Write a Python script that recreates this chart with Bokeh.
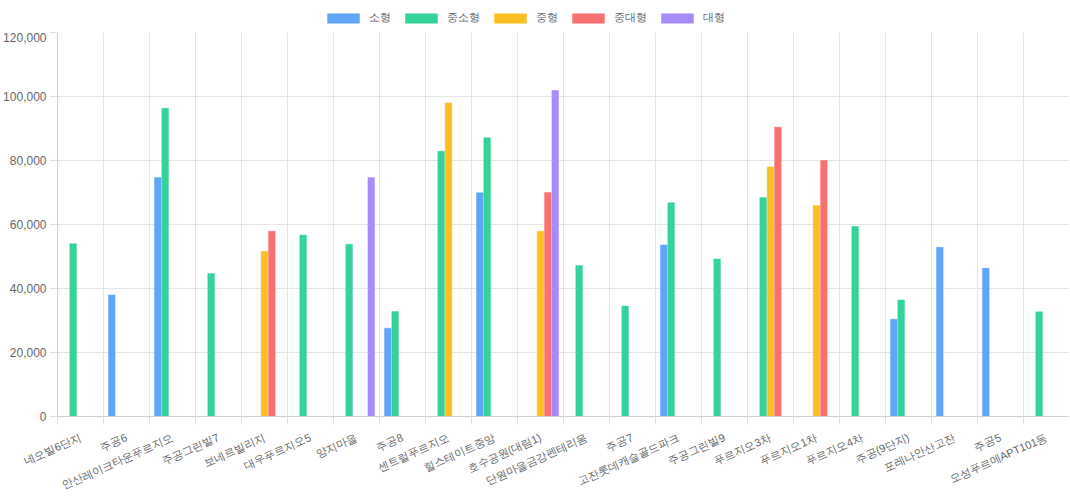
import math
from bokeh.plotting import figure
from bokeh.layouts import column
from bokeh.models import (ColumnDataSource, FixedTicker, Legend, LegendItem,
                          Range1d, NumeralTickFormatter)
from bokeh.transform import dodge
from bokeh.embed import file_html
from bokeh.resources import INLINE

nan = float("nan")

categories = ["네오빌6단지", "주공6", "안산레이크타운푸르지오", "주공그린빌7", "보네르빌리지",
              "대우푸르지오5", "양지마을", "주공8", "센트럴푸르지오", "힐스테이트중앙",
              "호수공원(대림1)", "단원마을금강펜테리움", "주공7", "고잔롯데캐슬골드파크",
              "주공그린빌9", "푸르지오3차", "푸르지오1차", "푸르지오4차", "주공(9단지)",
              "포레나안산고잔", "주공5", "오성푸르메APT101동"]

series_names = ["소형", "중소형", "중형", "중대형", "대형"]

small = [nan, 38000, 74700, nan, nan, nan, nan, 27600, nan, 69900, nan,
         nan, nan, 53600, nan, nan, nan, nan, 30400, 52900, 46300, nan]
mid_small = [54000, nan, 96300, 44700, nan, 56700, 53800, 32800, 82900, 87100, nan,
             47200, 34500, 66800, 49200, 68400, nan, 59400, 36400, nan, nan, 32700]
medium = [nan, nan, nan, nan, 51600, nan, nan, nan, 98000, nan, 57900,
          nan, nan, nan, nan, 78000, 65900, nan, nan, nan, nan, nan]
mid_large = [nan, nan, nan, nan, 57900, nan, nan, nan, nan, nan, 70000,
             nan, nan, nan, nan, 90400, 80000, nan, nan, nan, nan, nan]
large = [nan, nan, nan, nan, nan, nan, 74700, nan, nan, nan, 101900,
         nan, nan, nan, nan, nan, nan, nan, nan, nan, nan, nan]

colors = ["#60a5fa", "#34d399", "#fbbf24", "#f87171", "#a78bfa"]
y_ticks = [0, 20000, 40000, 60000, 80000, 100000, 120000]

FONT = "Liberation Sans"
FW, FH = 1012, 384
LEFT = 57

n = len(categories)
idx = list(range(n))
source = ColumnDataSource(dict(idx=idx, s0=small, s1=mid_small, s2=medium,
                               s3=mid_large, s4=large))

# ---- legend strip above the chart ----
lf = figure(frame_width=FW, frame_height=32, output_backend="svg", toolbar_location=None,
            x_range=Range1d(0, 1), y_range=Range1d(0, 1),
            x_axis_location=None, y_axis_location=None,
            min_border_left=LEFT, min_border_right=0, min_border_top=0, min_border_bottom=0)
lf.outline_line_color = None
lf.grid.visible = False

# ---- main chart ----
p = figure(frame_width=FW, frame_height=FH, output_backend="svg", toolbar_location=None,
           x_range=Range1d(-0.5, n - 0.5), y_range=Range1d(0, 120000),
           min_border_left=LEFT, min_border_right=0, min_border_top=0, min_border_bottom=0)
p.outline_line_color = None
p.background_fill_color = "white"

slot = 0.8 / 5
items = []
for k, (name, col) in enumerate(zip(series_names, colors)):
    p.vbar(x=dodge("idx", (k - 2) * slot, range=p.x_range), top="s%d" % k,
           width=slot * 0.9, bottom=0, source=source,
           fill_color=col, line_color=col, line_alpha=0.45, line_width=1)
    # swatch renderer kept outside the legend strip's visible range
    lr = lf.vbar(x=[-10], top=[-10], bottom=-11, width=0.1,
                 fill_color=col, line_color=col, line_alpha=0.45)
    items.append(LegendItem(label=name, renderers=[lr]))

legend = Legend(items=items, orientation="horizontal", location=(266, 7),
                glyph_width=40, glyph_height=12, label_standoff=6, spacing=10,
                label_text_font=FONT, label_text_font_size="11px",
                label_text_color="#666666", border_line_color=None,
                background_fill_alpha=0, padding=2, margin=0)
lf.add_layout(legend)

# grids at category boundaries
bounds = [i - 0.5 for i in range(n + 1)]
p.xgrid.ticker = FixedTicker(ticks=bounds)
p.xgrid.grid_line_color = "#e5e5e5"
p.ygrid.ticker = FixedTicker(ticks=y_ticks)
p.ygrid.grid_line_color = "#e5e5e5"

xa = p.xaxis[0]
xa.ticker = FixedTicker(ticks=idx, minor_ticks=bounds)
xa.major_label_overrides = {i: c for i, c in enumerate(categories)}
xa.major_label_orientation = 0.42
xa.major_tick_line_color = None
xa.major_tick_out = 0
xa.major_tick_in = 0
xa.minor_tick_out = 8
xa.minor_tick_in = 0
xa.minor_tick_line_color = "#e0e0e0"
xa.axis_line_color = "#d0d0d0"
xa.major_label_text_font = FONT
xa.major_label_text_font_size = "11px"
xa.major_label_text_color = "#666666"
xa.major_label_standoff = 12

ya = p.yaxis[0]
ya.ticker = FixedTicker(ticks=y_ticks)
ya.formatter = NumeralTickFormatter(format="0,0")
ya.minor_tick_line_color = None
ya.major_tick_out = 8
ya.major_tick_in = 0
ya.major_tick_line_color = "#e0e0e0"
ya.axis_line_color = "#d0d0d0"
ya.major_label_text_font = FONT
ya.major_label_text_font_size = "12px"
ya.major_label_text_color = "#666666"
ya.major_label_standoff = 3

layout = column(lf, p, spacing=0)
open("out.html", "w").write(file_html(layout, INLINE))
